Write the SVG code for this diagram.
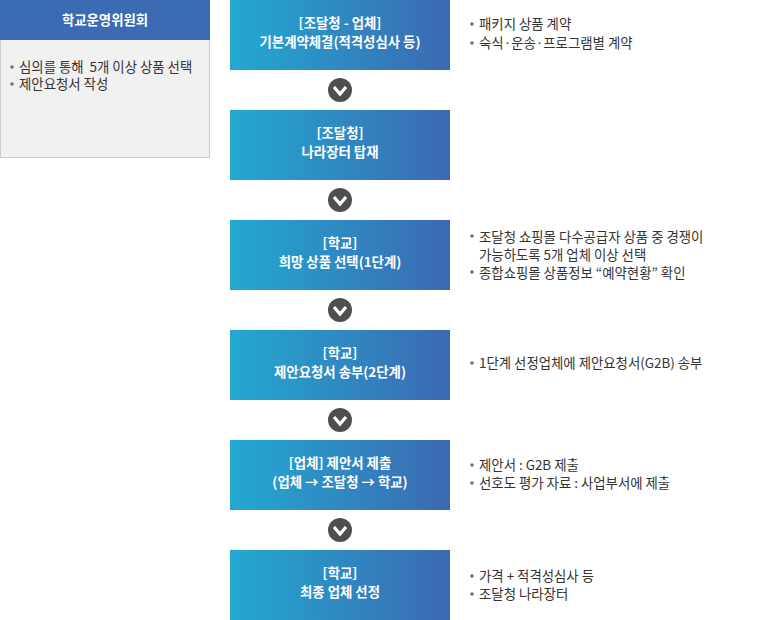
<svg xmlns="http://www.w3.org/2000/svg" width="776" height="620" viewBox="0 0 776 620">
<style>
text{font-family:"Noto Sans CJK KR","Noto Sans",sans-serif;font-size:13.4px;letter-spacing:0}
.bt{fill:#fff;font-weight:bold;text-anchor:middle}
.dt{fill:#333}
.dot{fill:#6b7380}
.box{fill:url(#g)}
</style>
<defs>
<linearGradient id="g" x1="0" y1="0" x2="1" y2="0">
<stop offset="0" stop-color="#22a9d1"/>
<stop offset="1" stop-color="#3c69b2"/>
</linearGradient>
<g id="arr"><circle r="12" fill="#4f4f4f"/><path d="M-6,-3 L0,4 L6,-3" fill="none" stroke="#fff" stroke-width="3.2" stroke-linejoin="miter"/></g>
</defs>
<g id="committee">
<rect x="0.5" y="0.5" width="209" height="157" fill="#f1f1f1" stroke="#cccccc"/>
<rect x="0" y="0" width="210" height="40" fill="#3a6bb3"/>
<text class="bt" x="105" y="25">학교운영위원회</text>
<circle class="dot" cx="12" cy="67" r="1.8"/><text class="dt" x="19" y="72">심의를 통해&#160; 5개 이상 상품 선택</text>
<circle class="dot" cx="12" cy="84" r="1.8"/><text class="dt" x="19" y="89">제안요청서 작성</text>
</g>
<g id="connectors">
<use href="#arr" x="340" y="90"/>
<use href="#arr" x="340" y="200"/>
<use href="#arr" x="340" y="310"/>
<use href="#arr" x="340" y="420"/>
<use href="#arr" x="340" y="530"/>
</g>
<g id="step1">
<rect class="box" x="230" y="0" width="220" height="70"/>
<text class="bt" x="340" y="28">[조달청 - 업체]</text>
<text class="bt" x="340" y="47">기본계약체결(적격성심사 등)</text>
<circle class="dot" cx="472" cy="24" r="1.8"/><text class="dt" x="479" y="29">패키지 상품 계약</text>
<circle class="dot" cx="472" cy="43" r="1.8"/><text class="dt" x="479" y="48">숙식·운송·프로그램별 계약</text>
</g>
<g id="step2">
<rect class="box" x="230" y="110" width="220" height="70"/>
<text class="bt" x="340" y="138">[조달청]</text>
<text class="bt" x="340" y="157">나라장터 탑재</text>
</g>
<g id="step3">
<rect class="box" x="230" y="220" width="220" height="70"/>
<text class="bt" x="340" y="248">[학교]</text>
<text class="bt" x="340" y="267">희망 상품 선택(1단계)</text>
<circle class="dot" cx="472" cy="236" r="1.8"/><text class="dt" x="479" y="242">조달청 쇼핑몰 다수공급자 상품 중 경쟁이</text>
<text class="dt" x="479" y="260">가능하도록 5개 업체 이상 선택</text>
<circle class="dot" cx="472" cy="272" r="1.8"/><text class="dt" x="479" y="278">종합쇼핑몰 상품정보 “예약현황” 확인</text>
</g>
<g id="step4">
<rect class="box" x="230" y="330" width="220" height="70"/>
<text class="bt" x="340" y="358">[학교]</text>
<text class="bt" x="340" y="377">제안요청서 송부(2단계)</text>
<circle class="dot" cx="472" cy="363" r="1.8"/><text class="dt" x="479" y="368">1단계 선정업체에 제안요청서(G2B) 송부</text>
</g>
<g id="step5">
<rect class="box" x="230" y="440" width="220" height="70"/>
<text class="bt" x="340" y="468">[업체] 제안서 제출</text>
<text class="bt" x="340" y="487">(업체 → 조달청 → 학교)</text>
<circle class="dot" cx="472" cy="465" r="1.8"/><text class="dt" x="479" y="470">제안서 : G2B 제출</text>
<circle class="dot" cx="472" cy="483" r="1.8"/><text class="dt" x="479" y="488">선호도 평가 자료 : 사업부서에 제출</text>
</g>
<g id="step6">
<rect class="box" x="230" y="550" width="220" height="70"/>
<text class="bt" x="340" y="578">[학교]</text>
<text class="bt" x="340" y="597">최종 업체 선정</text>
<circle class="dot" cx="472" cy="576" r="1.8"/><text class="dt" x="479" y="581">가격 + 적격성심사 등</text>
<circle class="dot" cx="472" cy="594" r="1.8"/><text class="dt" x="479" y="599">조달청 나라장터</text>
</g>
</svg>
